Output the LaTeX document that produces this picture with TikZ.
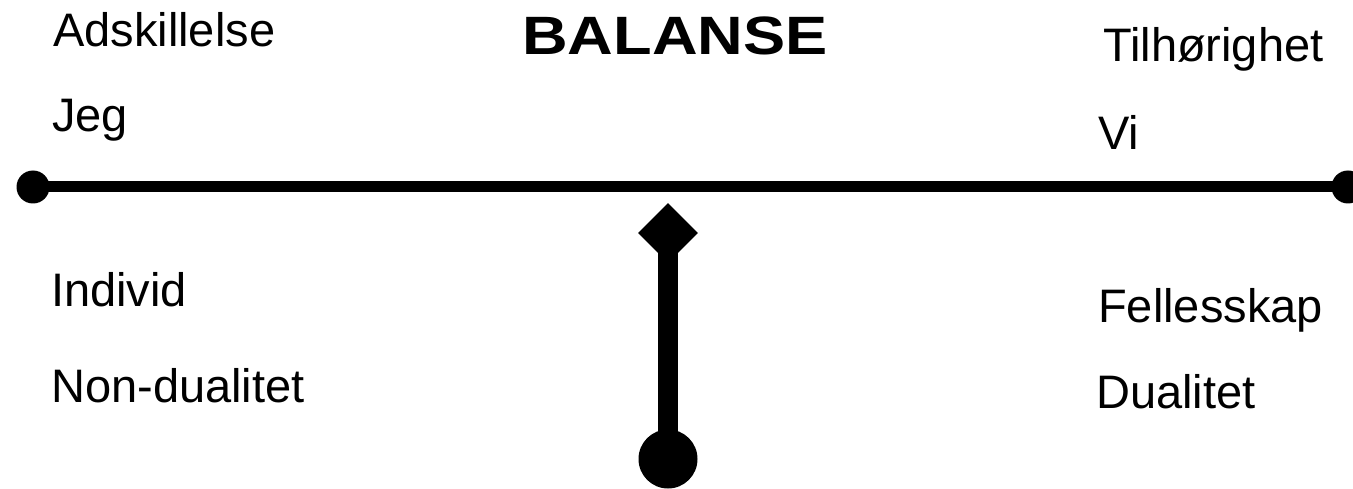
\documentclass[tikz,border=0pt]{standalone}
\usepackage{fontspec}
\setmainfont{Liberation Sans}
\usetikzlibrary{shapes.geometric}
\begin{document}
\begin{tikzpicture}[x=1pt,y=-1pt,
  lbl/.style={anchor=base west,inner sep=0pt,font=\fontsize{47}{56}\selectfont},
  enddot/.style={circle,fill=black,inner sep=0pt,minimum size=33pt},
  knob/.style={circle,fill=black,inner sep=0pt,minimum size=59pt},
  tip/.style={diamond,fill=black,inner sep=0pt,minimum width=60pt,minimum height=60pt},
  beam/.style={line width=11pt},
  shaft/.style={line width=20pt}]
\useasboundingbox (0,0) rectangle (1353,489);
\node[enddot] (L) at (33,187) {};
\node[enddot] (R) at (1348,187) {};
\node[tip] (D) at (668,233) {};
\node[knob] (B) at (668,459) {};
\draw[beam] (L.center) -- (R.center);
\draw[shaft] (D.center) -- (B.center);
\node[anchor=base,inner sep=0pt,font=\fontsize{54}{60}\selectfont\bfseries] (T) at (675,55) {\scalebox{1.17}[1]{BALANSE}};
\node[lbl] (a1) at (53,47) {Adskillelse};
\node[lbl] (a2) at (52,132) {Jeg};
\node[lbl] (a3) at (51,307) {Individ};
\node[lbl] (a4) at (51,402) {Non-dualitet};
\node[lbl] (b1) at (1103,62) {Tilhørighet};
\node[lbl] (b2) at (1098,150) {Vi};
\node[lbl] (b3) at (1098,323) {Fellesskap};
\node[lbl] (b4) at (1096,408) {Dualitet};
\end{tikzpicture}
\end{document}
